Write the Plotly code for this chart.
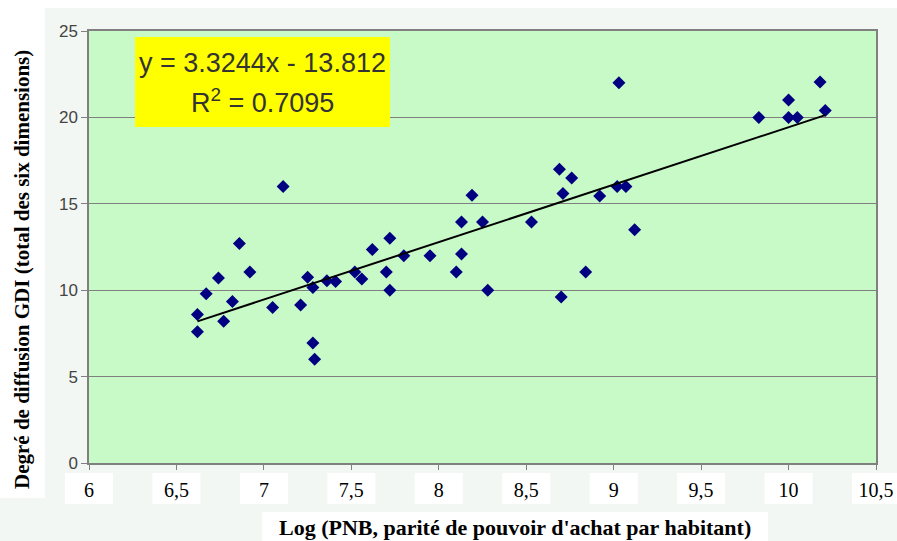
import plotly.graph_objects as go

# Data
log_pnb = [7.11, 6.86, 6.92, 6.74, 6.67, 6.82, 6.62, 6.77, 6.62, 7.05, 7.21, 7.25,
           7.28, 7.36, 7.41, 7.28, 7.29,
           7.52, 7.56, 7.62, 7.72, 7.70, 7.72, 7.80, 7.95, 8.10, 8.13, 8.13, 8.19,
           8.25, 8.28,
           9.03, 8.69, 8.76, 8.71, 8.92, 9.02, 9.07, 8.53, 9.12, 8.84, 8.70,
           9.83, 10.00, 10.00, 10.05, 10.18, 10.21]
gdi = [16.0, 12.7, 11.05, 10.7, 9.8, 9.35, 8.6, 8.2, 7.6, 9.0, 9.15, 10.75,
       10.15, 10.55, 10.5, 6.95, 6.0,
       11.05, 10.65, 12.35, 13.0, 11.05, 10.0, 12.0, 12.0, 11.05, 12.1, 13.95, 15.5,
       13.95, 10.0,
       22.0, 17.0, 16.5, 15.6, 15.45, 16.0, 16.0, 13.95, 13.5, 11.05, 9.6,
       20.0, 21.0, 20.0, 20.0, 22.05, 20.4]

slope = 3.3244
intercept = -13.812
r2 = 0.7095

x_ticks = [6, 6.5, 7, 7.5, 8, 8.5, 9, 9.5, 10, 10.5]
y_ticks = [0, 5, 10, 15, 20, 25]

W, H = 897, 541
L, R, T, B = 89, 21, 31, 78
PW, PH = W - L - R, H - T - B

def px(xr):
    return (xr - L) / PW

def py(yr):
    return (H - B - yr) / PH

fig = go.Figure()

fig.add_trace(go.Scatter(
    x=log_pnb, y=gdi, mode="markers",
    marker=dict(symbol="diamond", size=10, color="#000080"),
    showlegend=False, hoverinfo="x+y"))

xmin, xmax = min(log_pnb), max(log_pnb)
fig.add_trace(go.Scatter(
    x=[xmin, xmax], y=[slope * xmin + intercept, slope * xmax + intercept],
    mode="lines", line=dict(color="black", width=2), showlegend=False))

shapes = []
# white top strip and left strip
shapes.append(dict(type="rect", xref="paper", yref="paper", layer="below",
                   x0=px(0), x1=px(W), y0=py(8), y1=py(0),
                   fillcolor="white", line=dict(width=0)))
shapes.append(dict(type="rect", xref="paper", yref="paper", layer="below",
                   x0=px(0), x1=px(45), y0=py(498), y1=py(0),
                   fillcolor="white", line=dict(width=0)))
# white boxes behind x tick labels
for t in x_ticks:
    cx = L + (t - 6) / 4.5 * PW
    shapes.append(dict(type="rect", xref="paper", yref="paper", layer="below",
                       x0=px(cx - 24), x1=px(cx + 24), y0=py(504), y1=py(473),
                       fillcolor="white", line=dict(width=0)))
# white box behind x title
shapes.append(dict(type="rect", xref="paper", yref="paper", layer="below",
                   x0=px(262), x1=px(768), y0=py(541), y1=py(512),
                   fillcolor="white", line=dict(width=0)))
# yellow equation box
shapes.append(dict(type="rect", xref="paper", yref="paper", layer="above",
                   x0=px(135), x1=px(390), y0=py(127), y1=py(37),
                   fillcolor="#ffff00", line=dict(width=0)))

annotations = [
    dict(text=f"y = {slope}x - {abs(intercept)}", xref="paper", yref="paper",
         x=px(262), y=py(63), xanchor="center", yanchor="middle", showarrow=False,
         font=dict(family="Liberation Sans, Arial", size=27, color="#333333")),
    dict(text=f"R<sup>2</sup> = {r2}", xref="paper", yref="paper",
         x=px(262), y=py(101), xanchor="center", yanchor="middle", showarrow=False,
         font=dict(family="Liberation Sans, Arial", size=27, color="#333333")),
    dict(text="<b>Degré de diffusion GDI (total des six dimensions)</b>",
         xref="paper", yref="paper", x=px(22), y=py(270), textangle=-90,
         xanchor="center", yanchor="middle", showarrow=False,
         font=dict(family="Liberation Serif, Times New Roman", size=21, color="black")),
    dict(text="<b>Log (PNB, parité de pouvoir d'achat par habitant)</b>",
         xref="paper", yref="paper", x=px(515), y=py(527),
         xanchor="center", yanchor="middle", showarrow=False,
         font=dict(family="Liberation Serif, Times New Roman", size=22, color="black")),
]

fig.update_layout(
    width=W, height=H,
    margin=dict(l=L, r=R, t=T, b=B, pad=0),
    paper_bgcolor="#f3f7f3",
    plot_bgcolor="#c8fac8",
    separators=", ",
    shapes=shapes,
    annotations=annotations,
    showlegend=False,
    xaxis=dict(range=[6, 10.5], tickvals=x_ticks, showgrid=False, zeroline=False,
               showline=True, mirror=True, linecolor="#808080", linewidth=1.5,
               ticks="outside", ticklen=5, tickcolor="#808080",
               tickfont=dict(family="Liberation Serif, Times New Roman", size=20, color="black"),
               ticklabelstandoff=3, automargin=False),
    yaxis=dict(range=[0, 25], tickvals=y_ticks, showgrid=True, gridcolor="#808080",
               gridwidth=1, zeroline=False,
               showline=True, mirror=True, linecolor="#808080", linewidth=1.5,
               ticks="outside", ticklen=6, tickcolor="#808080",
               ticksuffix="\u00a0",
               tickfont=dict(family="Liberation Sans, Arial", size=17, color="#444444"),
               automargin=False),
)

fig.write_html("out.html", config={"displayModeBar": False},
               post_script="document.body.style.margin='0';document.body.style.overflow='hidden';")
